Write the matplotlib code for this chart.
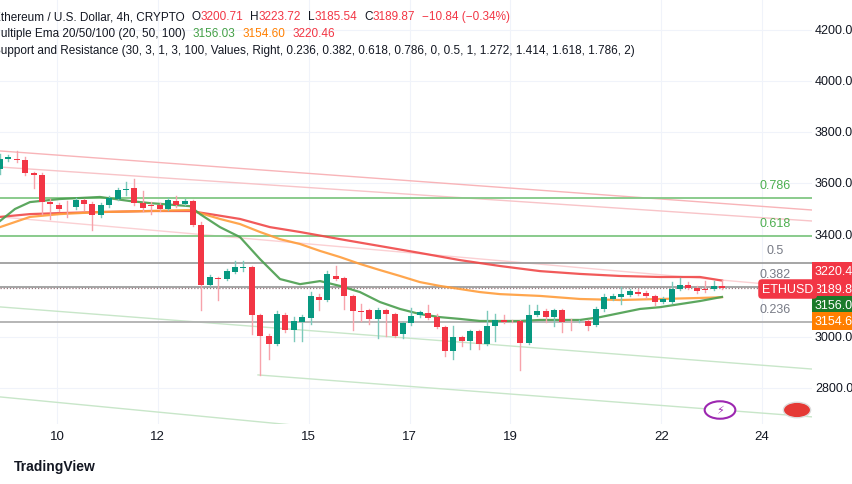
import matplotlib
matplotlib.use("Agg")
import matplotlib.pyplot as plt
from matplotlib.patches import Rectangle, Circle

plt.rcParams["font.family"] = "Liberation Sans"
W, H = 852, 485
# ---- data ----
candles = [  # open, close, high, low
 (3656,3695,3715,3637),(3695,3703,3711,3687),(3695,3693,3727,3684),(3691,3641,3703,3633),
 (3641,3633,3645,3582),(3633,3527,3641,3480),(3527,3519,3539,3461),(3515,3500,3523,3492),
 (3508,3506,3531,3468),(3508,3535,3543,3500),(3535,3519,3539,3496),(3519,3476,3527,3418),
 (3476,3515,3523,3468),(3515,3543,3551,3508),(3539,3574,3582,3535),(3574,3580,3605,3555),
 (3582,3523,3617,3515),(3523,3504,3570,3492),(3515,3512,3527,3480),(3515,3500,3523,3492),
 (3500,3535,3543,3496),(3531,3515,3551,3508),(3519,3531,3539,3515),(3531,3437,3535,3433),
 (3437,3203,3449,3105),(3203,3234,3242,3199),(3230,3226,3234,3144),(3226,3257,3265,3222),
 (3254,3273,3297,3250),(3271,3275,3297,3258),(3273,3085,3277,3011),(3085,3003,3089,2851),
 (3003,2972,3011,2913),(2972,3089,3101,2968),(3085,3027,3093,3019),(3027,3062,3077,2984),
 (3058,3077,3085,2984),(3074,3160,3175,3050),(3156,3144,3167,3105),(3144,3246,3258,3140),
 (3238,3226,3277,3222),(3230,3160,3234,3108),(3160,3101,3164,3027),(3101,3099,3128,3062),
 (3105,3070,3109,3050),(3070,3105,3113,2995),(3105,3089,3109,3003),(3089,3003,3093,2999),
 (3011,3054,3058,2995),(3054,3081,3113,3046),(3085,3097,3101,3077),(3093,3074,3124,3070),
 (3077,3038,3089,3034),(3038,2945,3042,2925),(2945,3000,3042,2913),(3000,2984,3003,2964),
 (2984,3023,3027,2952),(3023,2972,3027,2952),(2972,3042,3101,2968),(3042,3066,3089,2984),
 (3066,3058,3085,3054),(3062,3060,3066,3058),(3062,2976,3066,2870),(2976,3085,3124,2972),
 (3085,3101,3124,3081),(3101,3077,3109,3058),(3077,3105,3109,3042),(3105,3058,3109,3019),
 (3062,3060,3070,3027),(3060,3062,3066,3058),(3062,3042,3066,3027),(3046,3109,3117,3042),
 (3109,3156,3167,3101),(3148,3160,3167,3144),(3156,3167,3195,3128),(3164,3179,3187,3160),
 (3175,3167,3187,3164),(3171,3160,3179,3152),(3160,3136,3164,3125),(3136,3148,3156,3132),
 (3136,3187,3214,3132),(3187,3203,3230,3183),(3203,3191,3214,3187),(3191,3179,3199,3171),
 (3187,3185,3218,3175),(3187,3199,3218,3183),(3200.71,3189.87,3223.72,3185.54),
]
start_day = 8.868
ema20_pts = [(0,3453),(15,3500),(30,3527),(60,3539),(100,3547),(130,3531),(150,3523),(190,3511),
 (200,3480),(220,3429),(240,3390),(260,3304),(280,3226),(300,3206),(320,3218),(340,3199),(360,3175),
 (380,3136),(400,3109),(420,3089),(440,3077),(460,3070),(480,3062),(520,3062),(540,3066),(580,3066),
 (600,3077),(620,3093),(640,3109),(660,3116),(680,3128),(700,3140),(722,3156)]
ema50_pts = [(0,3429),(30,3469),(60,3480),(100,3488),(150,3492),(190,3496),(200,3484),(220,3461),
 (240,3441),(260,3410),(280,3382),(300,3363),(320,3336),(340,3312),(360,3285),(380,3261),(400,3238),
 (420,3214),(440,3199),(460,3187),(480,3175),(500,3167),(540,3160),(580,3148),(620,3144),(660,3148),
 (700,3152),(722,3155)]
ema100_pts = [(0,3469),(30,3480),(60,3484),(100,3488),(150,3492),(190,3492),(210,3480),(240,3461),
 (270,3429),(300,3410),(340,3382),(380,3355),(420,3328),(460,3300),(500,3277),(540,3257),(580,3246),
 (620,3238),(660,3234),(700,3234),(722,3220)]
fib_levels = [0.786, 0.618, 0.5, 0.382, 0.236]
fib_prices = [3543, 3394, 3289, 3195, 3058]
fib_colors = ["#81c784", "#81c784", "#9e9e9e", "#9e9e9e", "#b0b0b0"]
channels = [  # (x0px, p0, x1px, p1, color)
 (0,3727,812,3496,"#f8b4b8"),(0,3664,812,3453,"#f8c4c8"),(0,3469,812,3191,"#fbd0d3"),
 (0,3117,812,2874,"#c8e6c9"),(258,2851,812,2687,"#c8e6c9"),(0,2765,812,2460,"#c8e6c9")]
date_days = [10, 12, 15, 17, 19, 22, 24]
price_ticks = [2800, 3000, 3200, 3400, 3600, 3800, 4000, 4200]

PXD = 50.36
def day(px): return start_day + px / PXD
def fx(px): return px / W
def fy(py): return 1 - py / H

fig = plt.figure(figsize=(W/100, H/100), dpi=100)
fig.patch.set_facecolor("white")
ax = fig.add_axes([0, 1-425/H, 812/W, 425/H])
ax.set_xlim(day(0), day(812))
ax.set_ylim(4200-(425-31)*3.911, 4200+31*3.911)
for s in ax.spines.values(): s.set_visible(False)
ax.set_xticks([]); ax.set_yticks([])
for d in date_days: ax.axvline(d, color="#f0f3fa", lw=0.8, zorder=0)
for p in price_ticks: ax.axhline(p, color="#f0f3fa", lw=0.8, zorder=0)

for x0, p0, x1, p1, c in channels:
    ax.plot([day(x0), day(x1)], [p0, p1], color=c, lw=1, zorder=1)
for lv, p, c in zip(fib_levels, fib_prices, fib_colors):
    ax.plot([day(0), day(812)], [p, p], color=c, lw=1.3, zorder=1)
    ax.text(day(775), p + 51, f"{lv:g}", color="#4caf50" if c == "#81c784" else "#787b86",
            fontsize=9, ha="center", va="center")
ax.axhline(3189.87, color="#9a7a80", lw=0.9, ls=(0, (1, 1.5)), zorder=1)

for pts, c in [(ema100_pts, "#f04848"), (ema50_pts, "#ff9d3b"), (ema20_pts, "#4a9e4e")]:
    ax.plot([day(x) for x, _ in pts], [p for _, p in pts], color=c, lw=1.6, zorder=2, alpha=0.9)

bw = 6 / PXD
for i, (o, c, h, l) in enumerate(candles):
    d = start_day + i * (8.395 / PXD)
    up = c >= o
    col = "#089981" if up else "#f23645"
    wcol = "#7cc9bb" if up else "#f7a3ab"
    ax.plot([d, d], [l, h], color=wcol, lw=1, zorder=3)
    ax.add_patch(Rectangle((d - bw/2, min(o, c)), bw, max(abs(c - o), 2.5), color=col, zorder=4, lw=0))

for d in date_days:
    fig.text(fx(57 + (d - 10) * PXD), fy(437), str(d), ha="center", va="center", fontsize=9.5, color="#131722")
for p in price_ticks:
    py = 31 + (4200 - p) / 3.911
    if p == 3200:
        continue
    fig.text(fx(815), fy(py), f"{p:.1f}", ha="left", va="center", fontsize=9, color="#131722")
boxes = [(272, "3220.4", "#f23645"), (290, "3189.8", "#f23645"), (306, "3156.0", "#1b7a2a"), (322, "3154.6", "#ff7f00")]
for py, t, c in boxes:
    fig.text(fx(815), fy(py), t, ha="left", va="center", fontsize=9, color="white",
             bbox=dict(boxstyle="square,pad=0.25", fc=c, ec="none"))
fig.text(fx(762), fy(290), "ETHUSD", ha="left", va="center", fontsize=9, color="white",
         bbox=dict(boxstyle="round,pad=0.3", fc="#f23645", ec="none"))

# header legend, chained segments
tc = "#131722"
FS = 8.5
renderer = fig.canvas.get_renderer()
def chain(x0, yy, parts):
    x = x0
    for s, c, gap in parts:
        x += gap
        t = fig.text(fx(x), fy(yy), s, fontsize=FS, color=c, va="center")
        x += t.get_window_extent(renderer).width
red = "#f23645"
chain(-7, 17, [("Ethereum / U.S. Dollar, 4h, CRYPTO", tc, 0), ("O", tc, 7), ("3200.71", red, 0),
               ("H", tc, 7), ("3223.72", red, 0), ("L", tc, 7), ("3185.54", red, 0),
               ("C", tc, 7), ("3189.87", red, 0), ("\u221210.84 (\u22120.34%)", red, 7)])
chain(-9, 34, [("Multiple Ema 20/50/100 (20, 50, 100)", tc, 0), ("3156.03", "#43a047", 7),
               ("3154.60", "#ff7f00", 7), ("3220.46", red, 7)])
chain(-7, 51, [("Support and Resistance (30, 3, 1, 3, 100, Values, Right, 0.236, 0.382, 0.618, 0.786, 0, 0.5, 1, 1.272, 1.414, 1.618, 1.786, 2)", tc, 0)])

fig.text(fx(14), fy(467), "TradingView", fontsize=10, color="#131722", va="center", fontweight="bold")
fig.add_artist(Circle((fx(720), fy(411)), 0.018, transform=fig.transFigure, fc="white", ec="#9c27b0", lw=1.5))
fig.text(fx(720), fy(411), "\u26a1", fontsize=8, color="#9c27b0", ha="center", va="center", family="DejaVu Sans")
fig.add_artist(Circle((fx(797), fy(411)), 0.016, transform=fig.transFigure, fc="#e53935", ec="#dddddd", lw=1))

fig.savefig("out.png", dpi=100)
